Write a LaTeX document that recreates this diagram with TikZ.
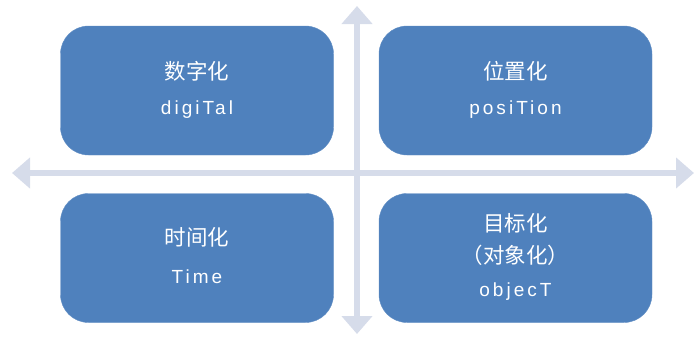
\documentclass[tikz,border=0pt]{standalone}
\usepackage{fontspec}
\setmainfont{DejaVu Sans}
\newfontfamily\cjk{Noto Sans CJK SC}
\newfontfamily\lat[LetterSpace=16]{Liberation Sans}
\usetikzlibrary{arrows.meta}
\definecolor{boxblue}{HTML}{4F81BD}
\definecolor{axisgrey}{HTML}{D6DCEA}
\tikzset{
  quad/.style={fill=boxblue, draw=boxblue!90!white, rounded corners=28pt, minimum width=273pt, minimum height=129pt, inner sep=0pt},
  zh/.style={text=white, font=\cjk\fontsize{21.5}{24}\selectfont},
  en/.style={text=white, font=\lat\fontsize{19}{22}\selectfont},
  axis/.style={draw=axisgrey, line width=6pt, {Triangle[width=30pt,length=18pt]}-{Triangle[width=30pt,length=18pt]}}
}
\begin{document}
\begin{tikzpicture}[x=1pt,y=-1pt]
\useasboundingbox (0,0) rectangle (697,338);
\coordinate (vt) at (357,6);
\coordinate (vb) at (357,334);
\coordinate (hl) at (12,173);
\coordinate (hr) at (694,173);
\draw[axis] (vb) -- (vt);
\draw[axis] (hl) -- (hr);
\node[quad] (tl) at (197,90.5) {};
\node[quad] (tr) at (515.5,90.5) {};
\node[quad] (bl) at (197,258) {};
\node[quad] (br) at (515.5,258) {};
\node[zh] (tlzh) at (197,71) {数字化};
\node[en] (tlen) at (197,110) {digiTal};
\node[zh] (trzh) at (515.5,71) {位置化};
\node[en] (tren) at (515.5,110) {posiTion};
\node[zh] (blzh) at (197,237) {时间化};
\node[en] (blen) at (197,277) {Time};
\node[zh] (brzh1) at (515.5,223) {目标化};
\node[zh] (brzh2) at (515.5,255) {（对象化）};
\node[en] (bren) at (515.5,292) {objecT};
\end{tikzpicture}
\end{document}
